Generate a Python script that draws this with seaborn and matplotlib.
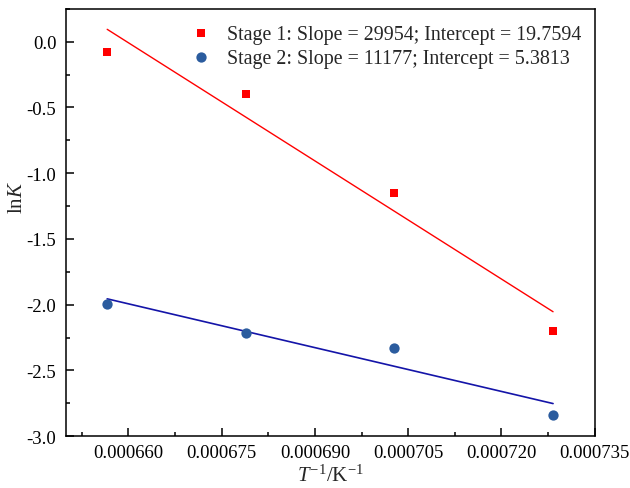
import numpy as np
import matplotlib
matplotlib.use('Agg')
import matplotlib.pyplot as plt
import seaborn as sns
from matplotlib.ticker import MultipleLocator, AutoMinorLocator, FormatStrFormatter

# reciprocal temperatures (1/K) and lnK for the two stages
inv_t = [0.0006566, 0.0006789, 0.0007028, 0.0007283]
lnk_stage1 = [-0.078, -0.398, -1.148, -2.200]
lnk_stage2 = [-1.995, -2.218, -2.330, -2.837]
label1 = 'Stage 1: Slope = 29954; Intercept = 19.7594'
label2 = 'Stage 2: Slope = 11177; Intercept = 5.3813'

sns.set_theme(style='ticks')
plt.rcParams['font.family'] = ['Liberation Serif', 'DejaVu Serif']
plt.rcParams['mathtext.fontset'] = 'custom'
plt.rcParams['mathtext.rm'] = 'Liberation Serif'
plt.rcParams['mathtext.it'] = 'Liberation Serif:italic'
plt.rcParams['axes.unicode_minus'] = False

fig = plt.figure(figsize=(6.3, 4.89), dpi=100)
ax = fig.add_axes([0.105, 0.106, 0.839, 0.874])

sns.regplot(x=inv_t, y=lnk_stage1, ax=ax, ci=None, truncate=True, marker='s',
            label=label1,
            scatter_kws={'color': '#FF0000', 's': 36, 'zorder': 3,
                         'linewidths': 0, 'alpha': 1},
            line_kws={'color': '#FF0000', 'lw': 1.0})
sns.regplot(x=inv_t, y=lnk_stage2, ax=ax, ci=None, truncate=True, marker='o',
            label=label2,
            scatter_kws={'color': '#2B5C9E', 's': 55, 'zorder': 3,
                         'linewidths': 0, 'alpha': 1},
            line_kws={'color': '#1414A8', 'lw': 1.2})

ax.set_xlim(0.00065, 0.000735)
ax.set_ylim(-3.0, 0.25)
ax.xaxis.set_major_locator(MultipleLocator(0.000015))
ax.xaxis.set_major_formatter(FormatStrFormatter('%.6f'))
ax.xaxis.set_minor_locator(AutoMinorLocator(2))
ax.yaxis.set_major_locator(MultipleLocator(0.5))
ax.yaxis.set_major_formatter(FormatStrFormatter('%.1f'))
ax.yaxis.set_minor_locator(AutoMinorLocator(2))

ax.tick_params(which='both', direction='in', top=False, right=False,
               labelsize=13.5, colors='black', width=1.1)
ax.tick_params(which='major', length=6)
ax.tick_params(which='minor', length=3)
ax.tick_params(axis='x', which='major', pad=6)
ax.tick_params(axis='y', which='major', pad=7)
for sp in ax.spines.values():
    sp.set_linewidth(1.1)
    sp.set_color('black')

ax.set_xlabel('$T^{-1}$/K$^{-1}$', fontsize=15, labelpad=2)
ax.set_ylabel('ln$K$', fontsize=15)
ax.yaxis.set_label_coords(-0.074, 0.56)

ax.legend(loc='upper left', bbox_to_anchor=(0.236, 0.963), frameon=False,
          fontsize=14.4, borderpad=0, borderaxespad=0, handlelength=1.0,
          handletextpad=0.8, labelspacing=0.25)

fig.savefig('out.png', dpi=100)
